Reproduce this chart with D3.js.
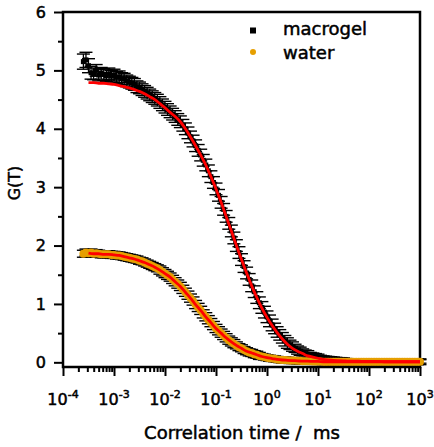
<!DOCTYPE html>
<html>
<head>
<meta charset="utf-8">
<script src="https://cdn.jsdelivr.net/npm/d3@7"></script>
<style>
    body { margin: 0; background: #fff; }
    text { font-family: "DejaVu Sans", sans-serif; fill: #000; stroke: #000; stroke-width: 0.5px; white-space: pre; }
</style>
</head>
<body>
<div id="chart"></div>
<script>
// correlation times of the measured points (ms)
const tau = [2.51e-4, 2.82e-4, 3.16e-4, 3.55e-4, 3.98e-4, 4.47e-4, 5.01e-4, 5.62e-4, 6.31e-4, 7.08e-4, 7.94e-4, 8.91e-4,
    1e-3, 1.12e-3, 1.26e-3, 1.41e-3, 1.58e-3, 1.78e-3, 2e-3, 2.24e-3, 2.51e-3, 2.82e-3, 3.16e-3, 3.55e-3, 3.98e-3, 4.47e-3, 5.01e-3, 5.62e-3, 6.31e-3, 7.08e-3, 7.94e-3, 8.91e-3,
    1e-2, 1.12e-2, 1.26e-2, 1.41e-2, 1.58e-2, 1.78e-2, 2e-2, 2.24e-2, 2.51e-2, 2.82e-2, 3.16e-2, 3.55e-2, 3.98e-2, 4.47e-2, 5.01e-2, 5.62e-2, 6.31e-2, 7.08e-2, 7.94e-2, 8.91e-2,
    0.1, 0.112, 0.126, 0.141, 0.158, 0.178, 0.2, 0.224, 0.251, 0.282, 0.316, 0.355, 0.398, 0.447, 0.501, 0.562, 0.631, 0.708, 0.794, 0.891,
    1, 1.12, 1.26, 1.41, 1.58, 1.78, 2, 2.24, 2.51, 2.82, 3.16, 3.55, 3.98, 4.47, 5.01, 5.62, 6.31, 7.08, 7.94, 8.91,
    10, 11.2, 12.6, 14.1, 15.8, 17.8, 20, 22.4, 25.1, 28.2, 31.6, 35.5, 39.8, 44.7, 50.1, 56.2, 63.1, 70.8, 79.4, 89.1,
    100, 112, 126, 141, 158, 178, 200, 224, 251, 282, 316, 355, 398, 447, 501, 562, 631, 708, 794, 891, 1000];

const macrogel = [5.15, 5.18, 5.08, 4.96, 4.94, 5.00, 4.92, 4.95, 4.93, 4.91,
    4.94, 4.90, 4.92, 4.88, 4.89, 4.86, 4.85, 4.82, 4.80, 4.78,
    4.76, 4.72, 4.70, 4.67, 4.64, 4.61, 4.58, 4.55, 4.52, 4.49,
    4.45, 4.41, 4.37, 4.33, 4.29, 4.25, 4.21, 4.16, 4.12, 4.06,
    4.00, 3.93, 3.86, 3.79, 3.71, 3.63, 3.55, 3.46, 3.38, 3.28,
    3.18, 3.08, 2.97, 2.86, 2.74, 2.62, 2.50, 2.38, 2.25, 2.13,
    2.00, 1.88, 1.76, 1.64, 1.53, 1.42, 1.31, 1.21, 1.11, 1.02,
    0.94, 0.86, 0.78, 0.71, 0.64, 0.58, 0.52, 0.47, 0.42, 0.37,
    0.33, 0.30, 0.27, 0.24, 0.21, 0.19, 0.17, 0.15, 0.14, 0.12,
    0.11, 0.10, 0.09, 0.08, 0.07, 0.065, 0.06, 0.055, 0.05, 0.045,
    0.04, 0.04, 0.035, 0.035, 0.03, 0.03, 0.03, 0.025, 0.025, 0.025,
    0.02, 0.02, 0.02, 0.02, 0.02, 0.02, 0.02, 0.02, 0.02, 0.02,
    0.02, 0.02, 0.015, 0.015, 0.015, 0.015, 0.015, 0.015, 0.015, 0.015, 0.015, 0.015, 0.015];
const macrogelErr = [0.13, 0.13, 0.12, 0.11, 0.10, 0.10, 0.10, 0.10, 0.10, 0.10,
    0.10, 0.10, 0.10, 0.10, 0.10, 0.10, 0.10, 0.10, 0.10, 0.10,
    0.10, 0.10, 0.10, 0.10, 0.10, 0.10, 0.10, 0.10, 0.10, 0.10,
    0.10, 0.10, 0.10, 0.10, 0.10, 0.10, 0.10, 0.10, 0.10, 0.10,
    0.10, 0.10, 0.10, 0.10, 0.10, 0.10, 0.10, 0.10, 0.10, 0.10,
    0.10, 0.10, 0.10, 0.10, 0.10, 0.10, 0.10, 0.10, 0.10, 0.10,
    0.10, 0.10, 0.10, 0.10, 0.10, 0.10, 0.10, 0.10, 0.10, 0.10,
    0.10, 0.10, 0.10, 0.10, 0.10, 0.09, 0.09, 0.09, 0.09, 0.09,
    0.09, 0.08, 0.08, 0.07, 0.07, 0.07, 0.06, 0.06, 0.06, 0.05,
    0.05, 0.05, 0.05, 0.04, 0.04, 0.04, 0.04, 0.04, 0.04, 0.04,
    0.04, 0.04, 0.04, 0.03, 0.03, 0.03, 0.03, 0.03, 0.03, 0.03,
    0.03, 0.03, 0.03, 0.03, 0.03, 0.03, 0.03, 0.03, 0.03, 0.03,
    0.03, 0.03, 0.03, 0.03, 0.03, 0.03, 0.03, 0.03, 0.03, 0.03, 0.03, 0.03, 0.03];

const water = [1.86, 1.88, 1.87, 1.88, 1.86, 1.87, 1.86, 1.85, 1.85, 1.85,
    1.85, 1.84, 1.84, 1.83, 1.83, 1.82, 1.81, 1.80, 1.79, 1.78,
    1.77, 1.76, 1.74, 1.73, 1.71, 1.69, 1.67, 1.65, 1.63, 1.61,
    1.58, 1.55, 1.52, 1.49, 1.46, 1.42, 1.38, 1.34, 1.30, 1.25,
    1.20, 1.15, 1.10, 1.05, 0.99, 0.94, 0.89, 0.83, 0.78, 0.73,
    0.68, 0.63, 0.58, 0.54, 0.50, 0.46, 0.42, 0.38, 0.35, 0.32,
    0.29, 0.26, 0.24, 0.21, 0.19, 0.17, 0.16, 0.14, 0.13, 0.11,
    0.10, 0.09, 0.08, 0.07, 0.065, 0.06, 0.05, 0.045, 0.04, 0.04,
    0.035, 0.03, 0.03, 0.03, 0.025, 0.025, 0.02, 0.02, 0.02, 0.02,
    0.015, 0.015, 0.015, 0.015, 0.01, 0.01, 0.01, 0.01, 0.01, 0.01,
    0.01, 0.01, 0.01, 0.01, 0.01, 0.01, 0.01, 0.01, 0.01, 0.01,
    0.01, 0.01, 0.01, 0.01, 0.01, 0.01, 0.01, 0.01, 0.01, 0.01,
    0.01, 0.01, 0.01, 0.01, 0.01, 0.01, 0.01, 0.01, 0.01, 0.01, 0.01, 0.01, 0.01];
const waterErr = [0.06, 0.06, 0.06, 0.06, 0.06, 0.06, 0.06, 0.06, 0.06, 0.06,
    0.06, 0.06, 0.06, 0.06, 0.06, 0.06, 0.06, 0.06, 0.06, 0.06,
    0.06, 0.06, 0.06, 0.06, 0.06, 0.06, 0.06, 0.06, 0.06, 0.06,
    0.07, 0.07, 0.07, 0.07, 0.07, 0.07, 0.07, 0.07, 0.07, 0.07,
    0.07, 0.07, 0.07, 0.07, 0.07, 0.07, 0.07, 0.07, 0.07, 0.07,
    0.07, 0.07, 0.07, 0.07, 0.07, 0.07, 0.07, 0.07, 0.07, 0.07,
    0.06, 0.06, 0.06, 0.06, 0.06, 0.06, 0.06, 0.06, 0.06, 0.06,
    0.05, 0.05, 0.05, 0.05, 0.05, 0.05, 0.05, 0.05, 0.05, 0.05,
    0.05, 0.05, 0.05, 0.05, 0.05, 0.05, 0.05, 0.05, 0.05, 0.05,
    0.05, 0.05, 0.05, 0.05, 0.05, 0.05, 0.05, 0.05, 0.05, 0.05,
    0.05, 0.05, 0.05, 0.05, 0.05, 0.05, 0.05, 0.05, 0.05, 0.05,
    0.05, 0.05, 0.05, 0.05, 0.05, 0.05, 0.05, 0.05, 0.05, 0.05,
    0.05, 0.05, 0.05, 0.05, 0.05, 0.05, 0.05, 0.05, 0.05, 0.05, 0.05, 0.05, 0.05];

// fitted curves, sampled at these times (ms)
const tauFit = [3.16e-4, 3.98e-4, 5.01e-4, 6.31e-4, 7.94e-4,
    1e-3, 1.26e-3, 1.58e-3, 2e-3, 2.51e-3, 3.16e-3, 3.98e-3, 5.01e-3, 6.31e-3, 7.94e-3,
    1e-2, 1.26e-2, 1.58e-2, 2e-2, 2.51e-2, 3.16e-2, 3.98e-2, 5.01e-2, 6.31e-2, 7.94e-2,
    0.1, 0.126, 0.158, 0.2, 0.251, 0.316, 0.398, 0.501, 0.631, 0.794,
    1, 1.26, 1.58, 2, 2.51, 3.16, 3.98, 5.01, 6.31, 7.94,
    10, 12.6, 15.8, 20, 25.1, 31.6, 39.8, 50.1, 63.1, 79.4,
    100, 126, 158, 200, 251, 316, 398, 501, 631, 794, 1000];
const macrogelFit = [4.79, 4.79, 4.78, 4.78, 4.77,
    4.76, 4.74, 4.72, 4.70, 4.67, 4.64, 4.60, 4.55, 4.50, 4.43,
    4.36, 4.28, 4.21, 4.12, 4.00, 3.86, 3.71, 3.55, 3.38, 3.18,
    2.97, 2.74, 2.50, 2.25, 2.00, 1.76, 1.53, 1.31, 1.11, 0.93,
    0.77, 0.63, 0.51, 0.40, 0.31, 0.24, 0.19, 0.15, 0.11, 0.09,
    0.07, 0.05, 0.04, 0.035, 0.03, 0.025, 0.02, 0.02, 0.02, 0.015,
    0.015, 0.015, 0.015, 0.01, 0.01, 0.01, 0.01, 0.01, 0.01, 0.01, 0.01];
const waterFit = [1.87, 1.86, 1.86, 1.85, 1.85,
    1.84, 1.83, 1.81, 1.79, 1.77, 1.74, 1.71, 1.67, 1.63, 1.58,
    1.52, 1.46, 1.38, 1.30, 1.20, 1.10, 0.99, 0.89, 0.78, 0.68,
    0.58, 0.50, 0.42, 0.35, 0.29, 0.24, 0.19, 0.16, 0.13, 0.10,
    0.08, 0.065, 0.05, 0.04, 0.035, 0.03, 0.025, 0.02, 0.02, 0.015,
    0.015, 0.01, 0.01, 0.01, 0.01, 0.01, 0.01, 0.01, 0.01, 0.01,
    0.01, 0.01, 0.01, 0.01, 0.01, 0.01, 0.01, 0.01, 0.01, 0.01, 0.01];

const xTicks = [1e-4, 1e-3, 1e-2, 1e-1, 1e0, 1e1, 1e2, 1e3];
const xTickExp = ['-4', '-3', '-2', '-1', '0', '1', '2', '3'];
const yTicks = [0, 1, 2, 3, 4, 5, 6];

const seriesNames = ['macrogel', 'water'];
const orange = '#e69f00';

// layout
const width = 434, height = 447;
const plot = { left: 63, right: 420, top: 12, bottom: 367 };

const svg = d3.select('#chart').append('svg')
    .attr('width', width)
    .attr('height', height);

const x = d3.scaleLog()
    .domain([1e-4, 1e3])
    .range([plot.left, plot.right]);

const y = d3.scaleLinear()
    .domain([-0.08, 6])
    .range([plot.bottom, plot.top]);

// minor tick positions
const xMinor = [];
xTicks.slice(0, -1).forEach(d => { for (let k = 2; k <= 9; k++) xMinor.push(d * k); });
const yMinor = yTicks.slice(0, -1).map(d => d + 0.5);

// x axis
const xAxis = svg.append('g').attr('transform', `translate(0,${plot.bottom})`);
xAxis.append('g').call(d3.axisBottom(x).tickValues(xTicks).tickSize(9).tickFormat(''));
xAxis.append('g').call(d3.axisBottom(x).tickValues(xMinor).tickSize(5).tickFormat(''));
xAxis.selectAll('.domain').remove();
xAxis.selectAll('line').attr('stroke', '#000').attr('stroke-width', 2);

const xLabels = svg.append('g');
xTicks.forEach((d, i) => {
    const t = xLabels.append('text')
        .attr('x', x(d))
        .attr('y', 405)
        .attr('text-anchor', 'middle')
        .style('font-size', '16px');
    t.append('tspan').text('10');
    t.append('tspan').attr('dy', -7).style('font-size', '11px').text(xTickExp[i]);
});

// y axis
const yAxis = svg.append('g').attr('transform', `translate(${plot.left},0)`);
yAxis.append('g').call(d3.axisLeft(y).tickValues(yTicks).tickSize(9).tickFormat(d3.format('d')).tickPadding(8));
yAxis.append('g').call(d3.axisLeft(y).tickValues(yMinor).tickSize(5).tickFormat(''));
yAxis.selectAll('.domain').remove();
yAxis.selectAll('line').attr('stroke', '#000').attr('stroke-width', 2);
yAxis.selectAll('text')
    .style('font-size', '16px')
    .style('font-family', '"DejaVu Sans", sans-serif');

// frame
svg.append('rect')
    .attr('x', plot.left)
    .attr('y', plot.top)
    .attr('width', plot.right - plot.left)
    .attr('height', plot.bottom - plot.top)
    .attr('fill', 'none')
    .attr('stroke', '#000')
    .attr('stroke-width', 2.5);

// error bars + markers
function drawSeries(vals, errs, markerFill, shape) {
    const g = svg.append('g');
    const pts = tau.map((t, i) => ({ t, v: vals[i], e: errs[i] }));
    const bars = g.selectAll('.err').data(pts).enter().append('g').attr('class', 'err');
    bars.append('line')
        .attr('x1', d => x(d.t)).attr('x2', d => x(d.t))
        .attr('y1', d => y(d.v - d.e)).attr('y2', d => y(d.v + d.e))
        .attr('stroke', '#000').attr('stroke-width', 1.3);
    [-1, 1].forEach(s => {
        bars.append('line')
            .attr('x1', d => x(d.t) - 6.5).attr('x2', d => x(d.t) + 6.5)
            .attr('y1', d => y(d.v + s * d.e)).attr('y2', d => y(d.v + s * d.e))
            .attr('stroke', '#000').attr('stroke-width', 1.4);
    });
    if (shape === 'square') {
        g.selectAll('.pt').data(pts).enter().append('rect')
            .attr('x', d => x(d.t) - 2.5).attr('y', d => y(d.v) - 2.5)
            .attr('width', 5).attr('height', 5)
            .attr('fill', markerFill);
    } else {
        g.selectAll('.pt').data(pts).enter().append('circle')
            .attr('cx', d => x(d.t)).attr('cy', d => y(d.v))
            .attr('r', 4)
            .attr('fill', markerFill);
    }
}

drawSeries(macrogel, macrogelErr, '#000', 'square');
drawSeries(water, waterErr, orange, 'circle');

// fits
const fitLine = vals => d3.line()
    .x((d, i) => x(tauFit[i]))
    .y((d, i) => y(vals[i]))
    .curve(d3.curveMonotoneX)(tauFit);

[macrogelFit, waterFit].forEach(vals => {
    svg.append('path')
        .attr('d', fitLine(vals))
        .attr('fill', 'none')
        .attr('stroke', '#ff0000')
        .attr('stroke-width', 2.8);
});

// legend
const legend = svg.append('g');
legend.append('rect')
    .attr('x', 250).attr('y', 27.5)
    .attr('width', 6).attr('height', 6)
    .attr('fill', '#000');
legend.append('circle')
    .attr('cx', 253).attr('cy', 52)
    .attr('r', 3)
    .attr('fill', orange);
legend.append('text')
    .attr('x', 283).attr('y', 35)
    .style('font-size', '18px')
    .text(seriesNames[0]);
legend.append('text')
    .attr('x', 283).attr('y', 59)
    .style('font-size', '18px')
    .text(seriesNames[1]);

// axis titles
svg.append('text')
    .attr('x', 242)
    .attr('y', 439)
    .attr('text-anchor', 'middle')
    .style('font-size', '18px')
    .text('Correlation time /  ms');

svg.append('text')
    .attr('transform', 'rotate(-90)')
    .attr('x', -183)
    .attr('y', 20)
    .attr('text-anchor', 'middle')
    .style('font-size', '16px')
    .text('G(T)');
</script>
</body>
</html>
